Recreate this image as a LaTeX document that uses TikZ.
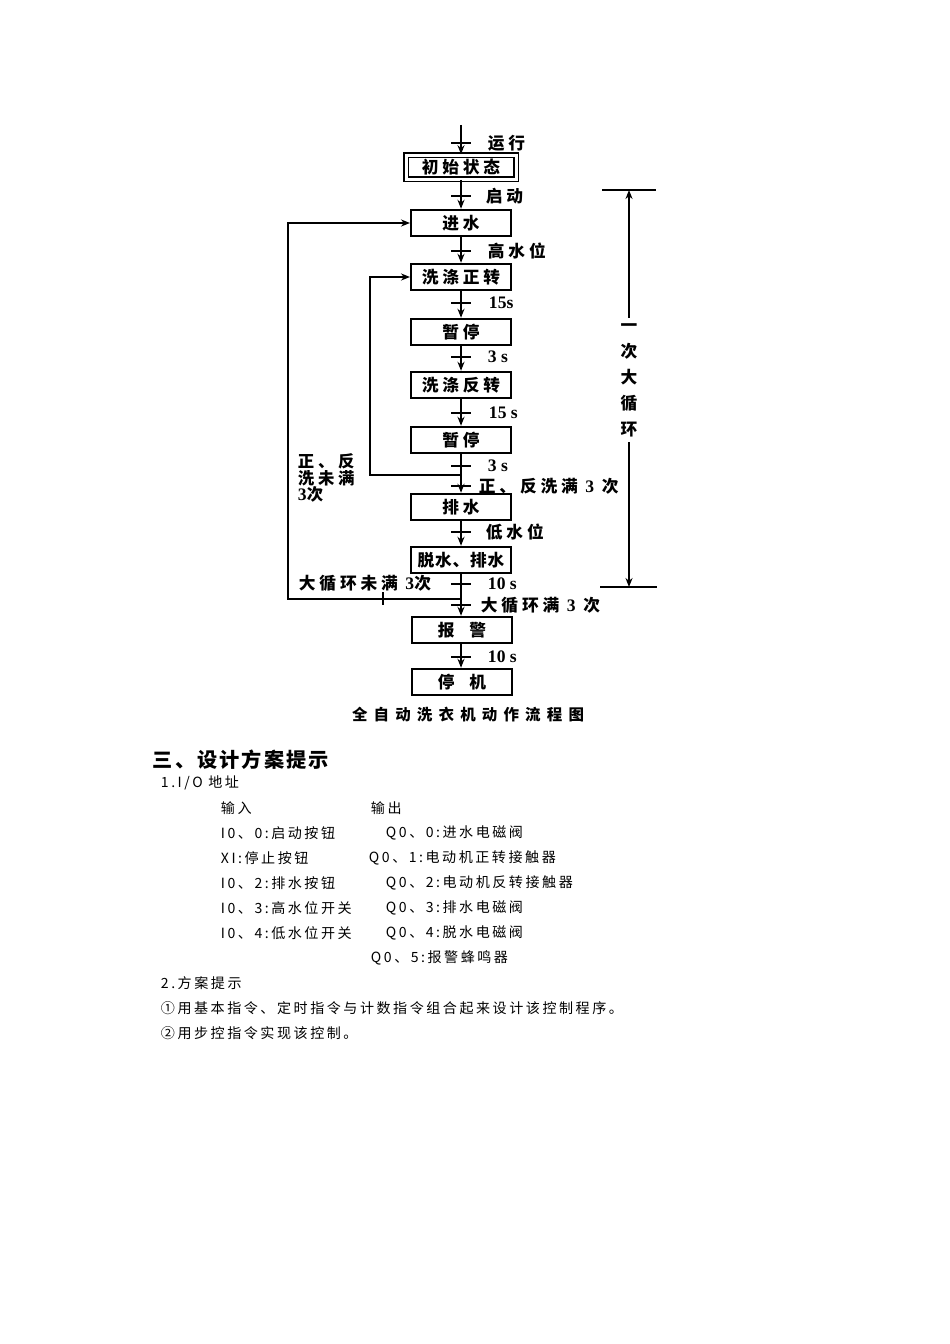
\documentclass[tikz,border=0pt]{standalone}
\usepackage{fontspec}
\setmainfont{Liberation Serif}
\newfontfamily\cjkbold[LetterSpace=23]{Noto Sans CJK SC}
\newfontfamily\cjktight[LetterSpace=5]{Noto Sans CJK SC}
\newfontfamily\cjkwide[LetterSpace=40]{Noto Sans CJK SC}
\newfontfamily\cjkbody[LetterSpace=18]{Noto Sans CJK SC}
\newfontfamily\cjkhead[LetterSpace=10]{Noto Sans CJK SC}
\newfontfamily\numfont{Liberation Serif}
\usetikzlibrary{arrows.meta, positioning, calc}

\newcommand{\diafont}{\cjkbold\bfseries\fontsize{9.5}{10}\selectfont}
\newcommand{\loopfont}{\cjkbold\bfseries\fontsize{9.3}{9.2}\selectfont}
\newcommand{\cyclefont}{\cjkbold\bfseries\fontsize{9.5}{14.8}\selectfont}
\newcommand{\bodyfont}{\cjkbody\fontsize{8}{9}\selectfont}
\newcommand{\nm}[1]{{\numfont\bfseries\fontsize{10}{10}\selectfont #1}}

\begin{document}
\begin{tikzpicture}[x=0.2mm, y=-0.2mm, line width=1.1pt,
    >={Stealth[length=1.8mm,width=1.4mm]},
    box/.style={draw, rectangle, minimum width=20mm, minimum height=5.3mm, inner sep=0pt, font=\diafont},
    lbl/.style={inner sep=0pt, font=\diafont},
    txt/.style={inner sep=0pt, anchor=west, font=\bodyfont}]
    \useasboundingbox (0,0) rectangle (950,1344);

    % Steps of the washing cycle
    \node (chushi) [box, double, line width=0.9pt, double distance=0.6mm, minimum width=22mm, minimum height=4.8mm] at (461,167) {初始状态};
    \node (jinshui) [box] at (461,223) {进水};
    \node (zhengzhuan) [box] at (461,277) {洗涤正转};
    \node (zanting1) [box] at (461,332) {暂停};
    \node (fanzhuan) [box] at (461,385) {洗涤反转};
    \node (zanting2) [box] at (461,440) {暂停};
    \node (paishui) [box] at (461,507) {排水};
    \node (tuoshui) [box, font=\cjktight\bfseries\fontsize{9.5}{10}\selectfont] at (461,560) {脱水、排水};
    \node (baojing) [box] at (462,630) {报\hspace{3mm}警};
    \node (tingji) [box] at (462,682) {停\hspace{3mm}机};

    % Main flow
    \coordinate (start) at (461,125);
    \draw[->] (start) -- (chushi);
    \draw[->] (chushi) -- (jinshui);
    \draw[->] (jinshui) -- (zhengzhuan);
    \draw[->] (zhengzhuan) -- (zanting1);
    \draw[->] (zanting1) -- (fanzhuan);
    \draw[->] (fanzhuan) -- (zanting2);
    \draw[->] (zanting2) -- (paishui);
    \draw[->] (paishui) -- (tuoshui);
    \draw[->] (tuoshui) -- (baojing.north -| tuoshui.south);
    \draw[->] (baojing.south -| tuoshui.south) -- (tingji.north -| tuoshui.south);

    % Transitions
    \foreach \y/\x/\t in {143/487/运行, 196/485/启动, 251/487/高水位, 303/488/\nm{15s},
        357/487/\nm{3 s}, 413/488/\nm{15 s}, 466/487/\nm{3 s}, 486/478/{正、反洗满 \nm{3} 次},
        532/485/低水位, 584/487/\nm{10 s}, 605/480/{大循环满 \nm{3} 次}, 657/487/\nm{10 s}} {
        \draw (451,\y) -- (471,\y);
        \node (t\y) [lbl, anchor=west] at (\x,\y) {\t};
    }

    % Loops back
    \coordinate (j1) at (461,475);
    \coordinate (j2) at (461,599);
    \draw[->] (j1) -- ++(-91,0) |- (zhengzhuan.west);
    \draw[->] (j2) -- ++(-173,0) |- (jinshui.west);
    \draw (383,592) -- (383,605);
    \node (loop1) [lbl, anchor=north west, align=left, font=\loopfont] at (297,453) {正、反\\洗未满\\\nm{3}次};
    \node (loop2) [lbl, anchor=west] at (298,583) {大循环未满 \nm{3}次};

    % One big cycle
    \coordinate (btop) at (629,190);
    \coordinate (bbot) at (629,587);
    \draw (btop) ++(-27,0) -- ++(54,0);
    \draw (bbot) ++(-29,0) -- ++(57,0);
    \node (cycle) [lbl, inner sep=0.9mm, align=center, font=\cyclefont] at (629,380) {一\\次\\大\\循\\环};
    \draw[->] (cycle.north) -- (btop);
    \draw[->] (cycle.south) -- (bbot);

    \node (caption) [lbl, font=\cjkwide\bfseries\fontsize{8.8}{10}\selectfont] at (468,715) {全自动洗衣机动作流程图};

    % Design hints
    \node (head) [txt, font=\cjkhead\bfseries\fontsize{11.5}{13}\selectfont] at (152,760) {三、设计方案提示};
    \node (io) [txt] at (160,783) {1.I/O 地址};
    \node (in) [txt] at (220,808) {输入};
    \node (out) [txt] at (370,808) {输出};
    \foreach \y/\a/\x/\b in {833/I0、0:启动按钮/385/Q0、0:进水电磁阀, 858/XI:停止按钮/368/Q0、1:电动机正转接触器,
        883/I0、2:排水按钮/385/Q0、2:电动机反转接触器, 908/I0、3:高水位开关/385/Q0、3:排水电磁阀,
        933/I0、4:低水位开关/385/Q0、4:脱水电磁阀} {
        \node (a\y) [txt] at (220,\y) {\a};
        \node (b\y) [txt] at (\x,\y) {\b};
    }
    \node (q5) [txt] at (370,958) {Q0、5:报警蜂鸣器};
    \node (hint) [txt] at (160,983) {2.方案提示};
    \node (h1) [txt] at (160,1008) {①用基本指令、定时指令与计数指令组合起来设计该控制程序。};
    \node (h2) [txt] at (160,1033) {②用步控指令实现该控制。};
\end{tikzpicture}
\end{document}
